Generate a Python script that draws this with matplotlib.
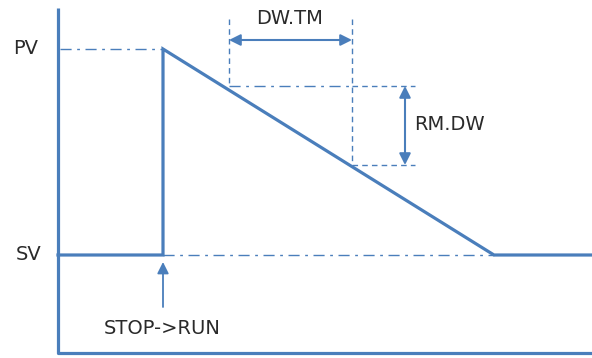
import matplotlib.pyplot as plt

plt.rcParams['font.family'] = ['DejaVu Sans']

BLUE = '#4a7ebb'

# drawing coordinates follow the picture (x right, y down)
axis_x = [58, 58, 592]
axis_y = [8, 353, 353]

# output profile: SV -> step at STOP->RUN -> ramp down -> SV
profile_x = [58, 163, 163, 494, 592]
profile_y = [255, 255, 49, 255, 255]
pv_level = 49
sv_level = 255

# DW.TM / RM.DW markers on the ramp
dw_x = [229, 352]
dw_y = [86, 165]
rm_arrow_x = 405
rm_right = 415

fig = plt.figure(figsize=(5.92, 3.58), dpi=100)
ax = fig.add_axes([0, 0, 1, 1])
ax.set_xlim(0, 592)
ax.set_ylim(358, 0)
ax.axis('off')

ax.plot(axis_x, axis_y, color=BLUE, lw=2.3, solid_capstyle='butt')
ax.plot(profile_x, profile_y, color=BLUE, lw=2.3, solid_joinstyle='miter')

dashdot = (0, (8, 4, 2, 4))
dashed = (0, (4, 3))
ax.plot([60, profile_x[1]], [pv_level, pv_level], color=BLUE, lw=1, ls=dashdot)
ax.plot([profile_x[1], profile_x[3]], [sv_level, sv_level], color=BLUE, lw=1, ls=dashdot)

# DW.TM guides
ax.plot([dw_x[0], dw_x[0]], [19, dw_y[0]], color=BLUE, lw=1, ls=dashed)
ax.plot([dw_x[1], dw_x[1]], [19, dw_y[1]], color=BLUE, lw=1, ls=dashed)
ax.plot([dw_x[0], dw_x[1]], [dw_y[0], dw_y[0]], color=BLUE, lw=1, ls=dashdot)
ax.plot([dw_x[1], rm_right], [dw_y[0], dw_y[0]], color=BLUE, lw=1, ls=dashed)
ax.plot([dw_x[1], rm_right], [dw_y[1], dw_y[1]], color=BLUE, lw=1, ls=dashed)

arrow = dict(arrowstyle='<|-|>', color=BLUE, lw=1.5, mutation_scale=17, shrinkA=0, shrinkB=0)
ax.annotate('', xy=(dw_x[0], 40), xytext=(dw_x[1], 40), arrowprops=arrow)
ax.annotate('', xy=(rm_arrow_x, dw_y[0]), xytext=(rm_arrow_x, dw_y[1]), arrowprops=arrow)
ax.annotate('', xy=(profile_x[1], 262), xytext=(profile_x[1], 307),
            arrowprops=dict(arrowstyle='-|>', color=BLUE, lw=1.3, mutation_scale=17,
                            shrinkA=0, shrinkB=0))

fs = 14
ax.text(26, pv_level, 'PV', fontsize=fs, ha='center', va='center', color='#2a2a2a')
ax.text(29, sv_level, 'SV', fontsize=fs, ha='center', va='center', color='#2a2a2a')
ax.text(290, 19, 'DW.TM', fontsize=fs, ha='center', va='center', color='#2a2a2a')
ax.text(414, 125, 'RM.DW', fontsize=fs, ha='left', va='center', color='#2a2a2a')
ax.text(162, 328, 'STOP->RUN', fontsize=fs, ha='center', va='center', color='#2a2a2a')

fig.savefig('out.png', dpi=100)
